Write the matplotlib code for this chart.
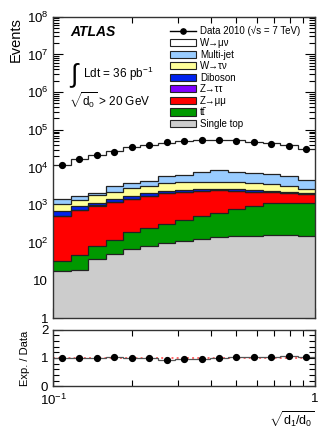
import numpy as np
import matplotlib
matplotlib.use('Agg')
import matplotlib.pyplot as plt
from matplotlib.patches import Patch
from matplotlib.lines import Line2D
from matplotlib.ticker import FuncFormatter, LogLocator, FixedLocator, MultipleLocator

plt.rcParams['font.family'] = ['Liberation Sans', 'DejaVu Sans']
plt.rcParams['mathtext.fontset'] = 'custom'
plt.rcParams['mathtext.rm'] = 'Liberation Sans'
plt.rcParams['mathtext.it'] = 'Liberation Sans:italic'
plt.rcParams['mathtext.bf'] = 'Liberation Sans:bold'

# 15 log bins in sqrt(d1/d0) from 0.1 to 1
n_bins = 15

# data events per bin
data = [11400, 16800, 21500, 26200, 34400, 39500, 48300, 51400, 54600,
        54600, 50400, 46600, 42800, 37200, 30400]

# MC components, bottom of the stack first
single_top = [18, 19, 38, 50, 70, 85, 100, 115, 130, 140, 150, 155, 162, 162, 150]
ttbar = [15, 28, 45, 72, 120, 160, 216, 290, 387, 490, 640, 795, 958, 1008, 1020]
zmumu = [492, 703, 887, 1078, 1290, 1535, 1784, 1845, 1863, 1870, 1640, 1330, 1070, 960, 830]
ztautau = [6, 8, 10, 12, 14, 16, 18, 20, 20, 20, 18, 16, 15, 14, 12]
diboson = [170, 190, 190, 230, 250, 280, 280, 250, 220, 210, 190, 170, 160, 150, 140]
wtaunu = [360, 400, 700, 830, 1080, 1200, 1470, 1500, 1420, 1370, 1420, 1300, 1210, 890, 550]
multijet = [400, 400, 230, 880, 970, 1150, 1940, 2200, 3480, 4550, 3480, 3200, 2960, 2760, 2070]
wmunu = [9830, 14880, 19190, 23840, 30260, 35050, 38600, 43300, 44540,
         46400, 44560, 40770, 38130, 33430, 26560]

components = [single_top, ttbar, zmumu, ztautau, diboson, wtaunu, multijet, wmunu]
labels = ['Single top', 'tt\u0304', 'Z→μμ', 'Z→ττ', 'Diboson',
          'W→τν', 'Multi-jet', 'W→μν']
colors = ['#cccccc', '#009900', '#ff0000', '#7f00ff', '#0022ee',
          '#ffff99', '#99ccff', '#ffffff']

edges = np.logspace(-1, 0, n_bins + 1)
centers = np.sqrt(edges[:-1] * edges[1:])

fig = plt.figure(figsize=(3.32, 4.30), dpi=100)
ax = fig.add_axes([0.160, 0.260, 0.789, 0.701])
ax2 = fig.add_axes([0.160, 0.102, 0.789, 0.131])

# stacked histogram
base = np.zeros(n_bins)
for vals, col in zip(components, colors):
    top = base + np.array(vals, dtype=float)
    ax.stairs(top, edges, baseline=base, fill=True, color=col, zorder=2)
    ax.stairs(top, edges, baseline=None, color='#222222', lw=0.9, zorder=3)
    base = top
total = base

ax.plot(centers, data, 'o', color='black', ms=4.2, zorder=5)

ax.set_xscale('log')
ax.set_yscale('log')
ax.set_xlim(0.1, 1)
ax.set_ylim(1, 1e8)

def ylab(v, pos):
    e = int(round(np.log10(v)))
    if e == 0:
        return '1'
    if e == 1:
        return '10'
    return r'$\mathregular{10^{%d}}$' % e

def xlab(v, pos):
    if abs(v - 1) < 1e-6:
        return '1'
    if abs(v - 0.1) < 1e-6:
        return r'$\mathregular{10^{-1}}$'
    return ''

for a in (ax, ax2):
    a.xaxis.set_major_locator(FixedLocator([0.1, 1]))
    a.xaxis.set_minor_locator(FixedLocator(np.arange(0.2, 1.0, 0.1)))
    a.tick_params(which='both', direction='in', top=True, right=True, labelsize=9.5)
    a.tick_params(which='major', length=7, width=0.8)
    a.tick_params(which='minor', length=4, width=0.8)
    for s in a.spines.values():
        s.set_linewidth(1.0)
        s.set_color('#333333')

ax.yaxis.set_major_locator(LogLocator(base=10, numticks=20))
ax.yaxis.set_minor_locator(LogLocator(base=10, subs=np.arange(2, 10), numticks=20))
ax.yaxis.set_major_formatter(FuncFormatter(ylab))
ax.yaxis.set_minor_formatter(FuncFormatter(lambda v, p: ''))
ax.xaxis.set_major_formatter(FuncFormatter(lambda v, p: ''))
ax.xaxis.set_minor_formatter(FuncFormatter(lambda v, p: ''))
ax.set_ylabel('Events', loc='top', fontsize=10.5, labelpad=3)

ax.text(0.065, 0.949, 'ATLAS', transform=ax.transAxes, fontsize=10,
        fontweight='bold', fontstyle='italic', va='center')
ax.text(0.06, 0.805, r'$\int$', transform=ax.transAxes, fontsize=19, va='center')
ax.text(0.115, 0.81, r'Ldt = 36 pb$^{\mathregular{-1}}$', transform=ax.transAxes,
        fontsize=8.5, va='center')
ax.text(0.06, 0.724, r'$\sqrt{\mathregular{d_0}}$ > 20 GeV', transform=ax.transAxes,
        fontsize=8.5, va='center')

# legend
handles = [Line2D([0], [0], color='black', marker='o', ms=3.8, lw=1)]
leg_labels = ['Data 2010 (√s = 7 TeV)']
for lab, col in zip(labels[::-1], colors[::-1]):
    handles.append(Patch(facecolor=col, edgecolor='#222222', lw=0.8))
    leg_labels.append(lab)
ax.legend(handles, leg_labels, loc='upper left', bbox_to_anchor=(0.512, 0.939),
          bbox_transform=fig.transFigure, frameon=False, fontsize=7,
          handlelength=2.7, handleheight=0.75, handletextpad=0.4,
          labelspacing=0.16, borderpad=0, borderaxespad=0)

# ratio panel
ratio = total / np.array(data, dtype=float)
ax2.axhline(1, color='red', ls=':', lw=1.4, alpha=0.6, zorder=1)
ax2.stairs(ratio, edges, color='#555555', lw=0.9, zorder=2)
ax2.plot(centers, ratio, 'o', color='black', ms=4.2, zorder=3)
ax2.set_xscale('log')
ax2.set_xlim(0.1, 1)
ax2.set_ylim(0, 2)
ax2.xaxis.set_major_locator(FixedLocator([0.1, 1]))
ax2.xaxis.set_minor_locator(FixedLocator(np.arange(0.2, 1.0, 0.1)))
ax2.xaxis.set_major_formatter(FuncFormatter(xlab))
ax2.xaxis.set_minor_formatter(FuncFormatter(lambda v, p: ''))
ax2.yaxis.set_major_locator(MultipleLocator(1))
ax2.yaxis.set_minor_locator(MultipleLocator(0.2))
ax2.tick_params(axis='x', which='major', pad=5)
ax2.set_ylabel('Exp. / Data', fontsize=8, labelpad=8)
ax2.set_xlabel(r'$\sqrt{\mathregular{d_1/d_0}}$', loc='right', fontsize=9, labelpad=1)

fig.savefig('out.png', dpi=100)
